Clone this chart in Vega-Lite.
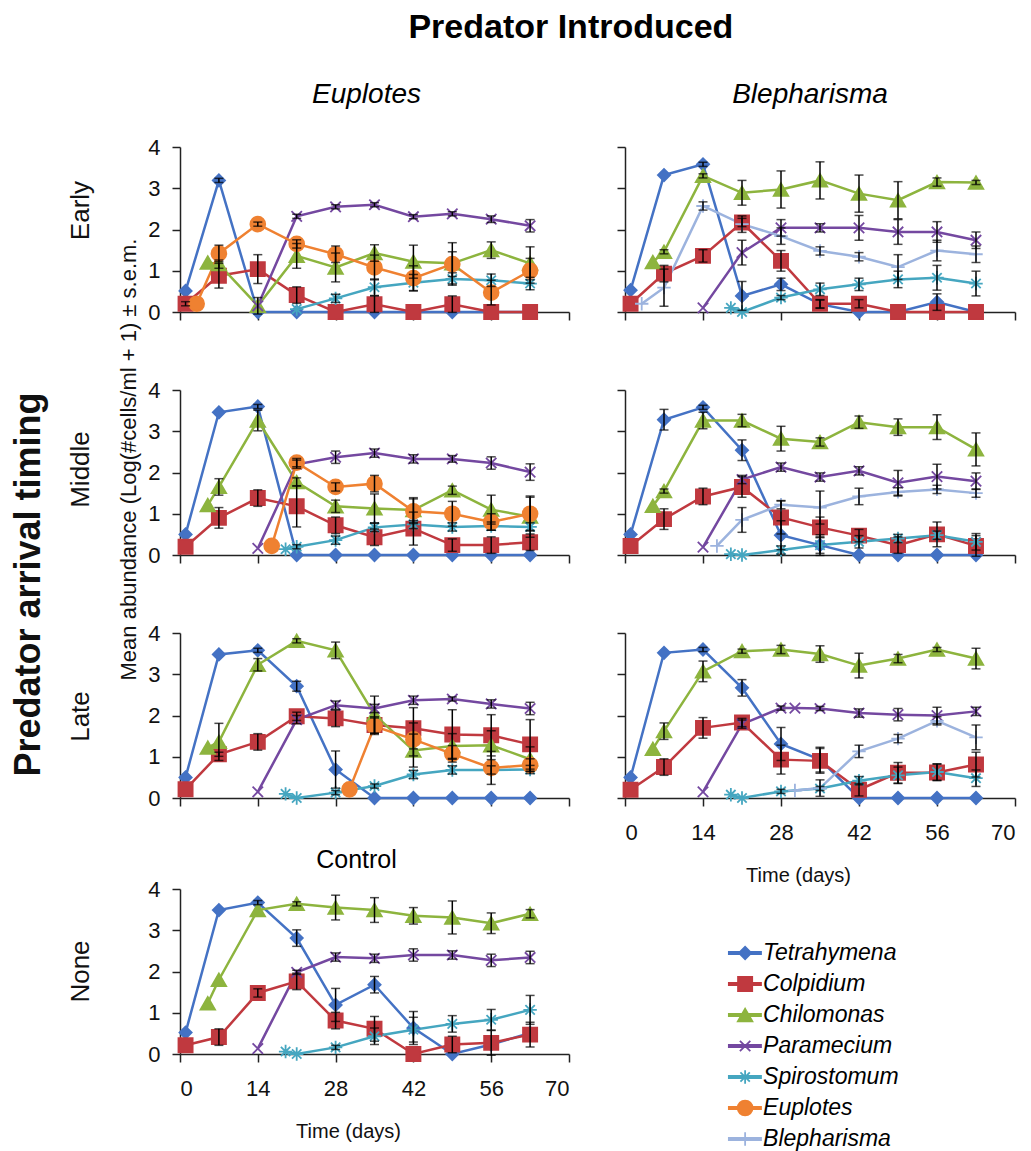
{
"$schema":"https://vega.github.io/schema/vega-lite/v6.json",
"padding":{"left":10,"top":11,"right":5,"bottom":3},
"title":{"text":"Predator Introduced","fontSize":34,"fontWeight":"bold","anchor":"middle","frame":"bounds","offset":36,"dx":58},
"datasets":{
"legend":[{"species":"Tetrahymena"},{"species":"Colpidium"},{"species":"Chilomonas"},{"species":"Paramecium"},{"species":"Spirostomum"},{"species":"Euplotes"},{"species":"Blepharisma"}],
"EE":[
{"species":"Tetrahymena","day":1,"mean":0.51,"se":0},{"species":"Tetrahymena","day":7,"mean":3.19,"se":0.05},{"species":"Tetrahymena","day":14,"mean":0,"se":0},{"species":"Tetrahymena","day":21,"mean":0,"se":0},{"species":"Tetrahymena","day":28,"mean":0,"se":0},{"species":"Tetrahymena","day":35,"mean":0,"se":0},{"species":"Tetrahymena","day":42,"mean":0,"se":0},{"species":"Tetrahymena","day":49,"mean":0,"se":0},{"species":"Tetrahymena","day":56,"mean":0,"se":0},{"species":"Tetrahymena","day":63,"mean":0,"se":0},
{"species":"Colpidium","day":1,"mean":0.2,"se":0.05},{"species":"Colpidium","day":7,"mean":0.88,"se":0.3},{"species":"Colpidium","day":14,"mean":1.04,"se":0.35},{"species":"Colpidium","day":21,"mean":0.41,"se":0.2},{"species":"Colpidium","day":28,"mean":0,"se":0},{"species":"Colpidium","day":35,"mean":0.19,"se":0.2},{"species":"Colpidium","day":42,"mean":0,"se":0},{"species":"Colpidium","day":49,"mean":0.19,"se":0.2},{"species":"Colpidium","day":56,"mean":0,"se":0},{"species":"Colpidium","day":63,"mean":0,"se":0},
{"species":"Chilomonas","day":5,"mean":1.2,"se":0},{"species":"Chilomonas","day":7,"mean":1.16,"se":0.1},{"species":"Chilomonas","day":14,"mean":0.15,"se":0.2},{"species":"Chilomonas","day":21,"mean":1.36,"se":0.3},{"species":"Chilomonas","day":28,"mean":1.08,"se":0.35},{"species":"Chilomonas","day":35,"mean":1.43,"se":0.2},{"species":"Chilomonas","day":42,"mean":1.22,"se":0.4},{"species":"Chilomonas","day":49,"mean":1.18,"se":0.5},{"species":"Chilomonas","day":56,"mean":1.5,"se":0.2},{"species":"Chilomonas","day":63,"mean":1.18,"se":0.4},
{"species":"Paramecium","day":14,"mean":0.15,"se":0},{"species":"Paramecium","day":21,"mean":2.32,"se":0.05},{"species":"Paramecium","day":28,"mean":2.55,"se":0.05},{"species":"Paramecium","day":35,"mean":2.6,"se":0.05},{"species":"Paramecium","day":42,"mean":2.31,"se":0.05},{"species":"Paramecium","day":49,"mean":2.38,"se":0.05},{"species":"Paramecium","day":56,"mean":2.25,"se":0.08},{"species":"Paramecium","day":63,"mean":2.09,"se":0.15},
{"species":"Spirostomum","day":21,"mean":0.07,"se":0},{"species":"Spirostomum","day":28,"mean":0.33,"se":0.1},{"species":"Spirostomum","day":35,"mean":0.6,"se":0.2},{"species":"Spirostomum","day":42,"mean":0.71,"se":0.2},{"species":"Spirostomum","day":49,"mean":0.8,"se":0.15},{"species":"Spirostomum","day":56,"mean":0.77,"se":0.15},{"species":"Spirostomum","day":63,"mean":0.69,"se":0.15},
{"species":"Euplotes","day":3,"mean":0.2,"se":0},{"species":"Euplotes","day":7,"mean":1.42,"se":0.2},{"species":"Euplotes","day":14,"mean":2.13,"se":0.05},{"species":"Euplotes","day":21,"mean":1.65,"se":0.1},{"species":"Euplotes","day":28,"mean":1.4,"se":0.2},{"species":"Euplotes","day":35,"mean":1.08,"se":0.3},{"species":"Euplotes","day":42,"mean":0.82,"se":0.3},{"species":"Euplotes","day":49,"mean":1.16,"se":0.3},{"species":"Euplotes","day":56,"mean":0.47,"se":0.3},{"species":"Euplotes","day":63,"mean":1.0,"se":0.3}
],
"EB":[
{"species":"Tetrahymena","day":1,"mean":0.53,"se":0},{"species":"Tetrahymena","day":7,"mean":3.32,"se":0},{"species":"Tetrahymena","day":14,"mean":3.58,"se":0.05},{"species":"Tetrahymena","day":21,"mean":0.39,"se":0.35},{"species":"Tetrahymena","day":28,"mean":0.67,"se":0.15},{"species":"Tetrahymena","day":35,"mean":0.19,"se":0.1},{"species":"Tetrahymena","day":42,"mean":0,"se":0},{"species":"Tetrahymena","day":49,"mean":0,"se":0},{"species":"Tetrahymena","day":56,"mean":0.24,"se":0.2},{"species":"Tetrahymena","day":63,"mean":0,"se":0},
{"species":"Colpidium","day":1,"mean":0.2,"se":0},{"species":"Colpidium","day":7,"mean":0.93,"se":0.2},{"species":"Colpidium","day":14,"mean":1.36,"se":0.15},{"species":"Colpidium","day":21,"mean":2.17,"se":0.1},{"species":"Colpidium","day":28,"mean":1.24,"se":0.25},{"species":"Colpidium","day":35,"mean":0.2,"se":0.1},{"species":"Colpidium","day":42,"mean":0.2,"se":0.1},{"species":"Colpidium","day":49,"mean":0,"se":0},{"species":"Colpidium","day":56,"mean":0,"se":0},{"species":"Colpidium","day":63,"mean":0,"se":0},
{"species":"Chilomonas","day":5,"mean":1.21,"se":0},{"species":"Chilomonas","day":7,"mean":1.46,"se":0.05},{"species":"Chilomonas","day":14,"mean":3.3,"se":0.05},{"species":"Chilomonas","day":21,"mean":2.89,"se":0.3},{"species":"Chilomonas","day":28,"mean":2.97,"se":0.45},{"species":"Chilomonas","day":35,"mean":3.19,"se":0.45},{"species":"Chilomonas","day":42,"mean":2.87,"se":0.45},{"species":"Chilomonas","day":49,"mean":2.71,"se":0.45},{"species":"Chilomonas","day":56,"mean":3.15,"se":0.1},{"species":"Chilomonas","day":63,"mean":3.14,"se":0.05},
{"species":"Paramecium","day":14,"mean":0.1,"se":0},{"species":"Paramecium","day":21,"mean":1.44,"se":0.3},{"species":"Paramecium","day":28,"mean":2.04,"se":0.2},{"species":"Paramecium","day":35,"mean":2.04,"se":0.1},{"species":"Paramecium","day":42,"mean":2.04,"se":0.3},{"species":"Paramecium","day":49,"mean":1.94,"se":0.3},{"species":"Paramecium","day":56,"mean":1.94,"se":0.25},{"species":"Paramecium","day":63,"mean":1.74,"se":0.2},
{"species":"Spirostomum","day":19,"mean":0.1,"se":0},{"species":"Spirostomum","day":21,"mean":0,"se":0},{"species":"Spirostomum","day":28,"mean":0.35,"se":0.05},{"species":"Spirostomum","day":35,"mean":0.55,"se":0.15},{"species":"Spirostomum","day":42,"mean":0.67,"se":0.15},{"species":"Spirostomum","day":49,"mean":0.79,"se":0.2},{"species":"Spirostomum","day":56,"mean":0.83,"se":0.3},{"species":"Spirostomum","day":63,"mean":0.69,"se":0.3},
{"species":"Blepharisma","day":3,"mean":0.2,"se":0},{"species":"Blepharisma","day":7,"mean":0.59,"se":0.45},{"species":"Blepharisma","day":14,"mean":2.57,"se":0.1},{"species":"Blepharisma","day":21,"mean":2.13,"se":0.2},{"species":"Blepharisma","day":28,"mean":1.84,"se":0.2},{"species":"Blepharisma","day":35,"mean":1.48,"se":0.1},{"species":"Blepharisma","day":42,"mean":1.34,"se":0.1},{"species":"Blepharisma","day":49,"mean":1.09,"se":0.3},{"species":"Blepharisma","day":56,"mean":1.49,"se":0.25},{"species":"Blepharisma","day":63,"mean":1.4,"se":0.2}
],
"ME":[
{"species":"Tetrahymena","day":1,"mean":0.5,"se":0},{"species":"Tetrahymena","day":7,"mean":3.46,"se":0},{"species":"Tetrahymena","day":14,"mean":3.6,"se":0.05},{"species":"Tetrahymena","day":21,"mean":0,"se":0},{"species":"Tetrahymena","day":28,"mean":0,"se":0},{"species":"Tetrahymena","day":35,"mean":0,"se":0},{"species":"Tetrahymena","day":42,"mean":0,"se":0},{"species":"Tetrahymena","day":49,"mean":0,"se":0},{"species":"Tetrahymena","day":56,"mean":0,"se":0},{"species":"Tetrahymena","day":63,"mean":0,"se":0},
{"species":"Colpidium","day":1,"mean":0.2,"se":0},{"species":"Colpidium","day":7,"mean":0.9,"se":0.25},{"species":"Colpidium","day":14,"mean":1.38,"se":0.2},{"species":"Colpidium","day":21,"mean":1.18,"se":0.5},{"species":"Colpidium","day":28,"mean":0.72,"se":0.2},{"species":"Colpidium","day":35,"mean":0.43,"se":0.2},{"species":"Colpidium","day":42,"mean":0.64,"se":0.4},{"species":"Colpidium","day":49,"mean":0.24,"se":0.15},{"species":"Colpidium","day":56,"mean":0.24,"se":0.2},{"species":"Colpidium","day":63,"mean":0.31,"se":0.2},
{"species":"Chilomonas","day":5,"mean":1.21,"se":0},{"species":"Chilomonas","day":7,"mean":1.65,"se":0.2},{"species":"Chilomonas","day":14,"mean":3.26,"se":0.25},{"species":"Chilomonas","day":21,"mean":1.77,"se":0.1},{"species":"Chilomonas","day":28,"mean":1.18,"se":0.15},{"species":"Chilomonas","day":35,"mean":1.13,"se":0.35},{"species":"Chilomonas","day":42,"mean":1.09,"se":0.3},{"species":"Chilomonas","day":49,"mean":1.57,"se":0.1},{"species":"Chilomonas","day":56,"mean":1.1,"se":0.35},{"species":"Chilomonas","day":63,"mean":0.93,"se":0.5},
{"species":"Paramecium","day":14,"mean":0.16,"se":0},{"species":"Paramecium","day":21,"mean":2.2,"se":0.1},{"species":"Paramecium","day":28,"mean":2.37,"se":0.15},{"species":"Paramecium","day":35,"mean":2.47,"se":0.1},{"species":"Paramecium","day":42,"mean":2.33,"se":0.1},{"species":"Paramecium","day":49,"mean":2.33,"se":0.08},{"species":"Paramecium","day":56,"mean":2.23,"se":0.15},{"species":"Paramecium","day":63,"mean":2.01,"se":0.2},
{"species":"Spirostomum","day":19,"mean":0.14,"se":0},{"species":"Spirostomum","day":21,"mean":0.2,"se":0.05},{"species":"Spirostomum","day":28,"mean":0.36,"se":0.1},{"species":"Spirostomum","day":35,"mean":0.67,"se":0.1},{"species":"Spirostomum","day":42,"mean":0.74,"se":0.1},{"species":"Spirostomum","day":49,"mean":0.68,"se":0.1},{"species":"Spirostomum","day":56,"mean":0.7,"se":0.1},{"species":"Spirostomum","day":63,"mean":0.68,"se":0.1},
{"species":"Euplotes","day":16.5,"mean":0.22,"se":0},{"species":"Euplotes","day":21,"mean":2.24,"se":0.1},{"species":"Euplotes","day":28,"mean":1.65,"se":0.1},{"species":"Euplotes","day":35,"mean":1.73,"se":0.2},{"species":"Euplotes","day":42,"mean":1.06,"se":0.3},{"species":"Euplotes","day":49,"mean":1.0,"se":0.3},{"species":"Euplotes","day":56,"mean":0.8,"se":0.2},{"species":"Euplotes","day":63,"mean":1.0,"se":0.4}
],
"MB":[
{"species":"Tetrahymena","day":1,"mean":0.5,"se":0},{"species":"Tetrahymena","day":7,"mean":3.28,"se":0.25},{"species":"Tetrahymena","day":14,"mean":3.58,"se":0.05},{"species":"Tetrahymena","day":21,"mean":2.54,"se":0.25},{"species":"Tetrahymena","day":28,"mean":0.48,"se":0.35},{"species":"Tetrahymena","day":35,"mean":0.24,"se":0.25},{"species":"Tetrahymena","day":42,"mean":0,"se":0},{"species":"Tetrahymena","day":49,"mean":0,"se":0},{"species":"Tetrahymena","day":56,"mean":0,"se":0},{"species":"Tetrahymena","day":63,"mean":0,"se":0},
{"species":"Colpidium","day":1,"mean":0.22,"se":0},{"species":"Colpidium","day":7,"mean":0.87,"se":0.25},{"species":"Colpidium","day":14,"mean":1.42,"se":0.2},{"species":"Colpidium","day":21,"mean":1.65,"se":0.25},{"species":"Colpidium","day":28,"mean":0.91,"se":0.4},{"species":"Colpidium","day":35,"mean":0.67,"se":0.25},{"species":"Colpidium","day":42,"mean":0.47,"se":0.15},{"species":"Colpidium","day":49,"mean":0.24,"se":0.2},{"species":"Colpidium","day":56,"mean":0.5,"se":0.3},{"species":"Colpidium","day":63,"mean":0.22,"se":0.25},
{"species":"Chilomonas","day":5,"mean":1.19,"se":0},{"species":"Chilomonas","day":7,"mean":1.55,"se":0.05},{"species":"Chilomonas","day":14,"mean":3.26,"se":0.2},{"species":"Chilomonas","day":21,"mean":3.26,"se":0.15},{"species":"Chilomonas","day":28,"mean":2.82,"se":0.3},{"species":"Chilomonas","day":35,"mean":2.74,"se":0.1},{"species":"Chilomonas","day":42,"mean":3.22,"se":0.15},{"species":"Chilomonas","day":49,"mean":3.1,"se":0.2},{"species":"Chilomonas","day":56,"mean":3.1,"se":0.3},{"species":"Chilomonas","day":63,"mean":2.56,"se":0.4},
{"species":"Paramecium","day":14,"mean":0.19,"se":0},{"species":"Paramecium","day":21,"mean":1.83,"se":0.1},{"species":"Paramecium","day":28,"mean":2.13,"se":0.1},{"species":"Paramecium","day":35,"mean":1.89,"se":0.1},{"species":"Paramecium","day":42,"mean":2.04,"se":0.1},{"species":"Paramecium","day":49,"mean":1.75,"se":0.3},{"species":"Paramecium","day":56,"mean":1.9,"se":0.3},{"species":"Paramecium","day":63,"mean":1.79,"se":0.2},
{"species":"Spirostomum","day":19,"mean":0.02,"se":0},{"species":"Spirostomum","day":21,"mean":0,"se":0},{"species":"Spirostomum","day":28,"mean":0.12,"se":0.1},{"species":"Spirostomum","day":35,"mean":0.24,"se":0.2},{"species":"Spirostomum","day":42,"mean":0.32,"se":0.15},{"species":"Spirostomum","day":49,"mean":0.4,"se":0.1},{"species":"Spirostomum","day":56,"mean":0.48,"se":0.1},{"species":"Spirostomum","day":63,"mean":0.32,"se":0.2},
{"species":"Blepharisma","day":16.5,"mean":0.22,"se":0},{"species":"Blepharisma","day":21,"mean":0.85,"se":0.3},{"species":"Blepharisma","day":28,"mean":1.22,"se":0.1},{"species":"Blepharisma","day":35,"mean":1.15,"se":0.4},{"species":"Blepharisma","day":42,"mean":1.42,"se":0.2},{"species":"Blepharisma","day":49,"mean":1.53,"se":0.1},{"species":"Blepharisma","day":56,"mean":1.59,"se":0.1},{"species":"Blepharisma","day":63,"mean":1.5,"se":0.1}
],
"LE":[
{"species":"Tetrahymena","day":1,"mean":0.5,"se":0},{"species":"Tetrahymena","day":7,"mean":3.48,"se":0},{"species":"Tetrahymena","day":14,"mean":3.58,"se":0.05},{"species":"Tetrahymena","day":21,"mean":2.71,"se":0.12},{"species":"Tetrahymena","day":28,"mean":0.69,"se":0.45},{"species":"Tetrahymena","day":35,"mean":0,"se":0},{"species":"Tetrahymena","day":42,"mean":0,"se":0},{"species":"Tetrahymena","day":49,"mean":0,"se":0},{"species":"Tetrahymena","day":56,"mean":0,"se":0},{"species":"Tetrahymena","day":63,"mean":0,"se":0},
{"species":"Colpidium","day":1,"mean":0.21,"se":0},{"species":"Colpidium","day":7,"mean":1.06,"se":0.05},{"species":"Colpidium","day":14,"mean":1.36,"se":0.2},{"species":"Colpidium","day":21,"mean":1.98,"se":0.1},{"species":"Colpidium","day":28,"mean":1.93,"se":0.2},{"species":"Colpidium","day":35,"mean":1.77,"se":0.2},{"species":"Colpidium","day":42,"mean":1.69,"se":0.5},{"species":"Colpidium","day":49,"mean":1.54,"se":0.6},{"species":"Colpidium","day":56,"mean":1.52,"se":0.5},{"species":"Colpidium","day":63,"mean":1.3,"se":0.6},
{"species":"Chilomonas","day":5,"mean":1.22,"se":0},{"species":"Chilomonas","day":7,"mean":1.36,"se":0.45},{"species":"Chilomonas","day":14,"mean":3.23,"se":0.15},{"species":"Chilomonas","day":21,"mean":3.81,"se":0.05},{"species":"Chilomonas","day":28,"mean":3.58,"se":0.2},{"species":"Chilomonas","day":35,"mean":2.02,"se":0.45},{"species":"Chilomonas","day":42,"mean":1.15,"se":0.4},{"species":"Chilomonas","day":49,"mean":1.26,"se":0.3},{"species":"Chilomonas","day":56,"mean":1.28,"se":0.35},{"species":"Chilomonas","day":63,"mean":0.94,"se":0.3},
{"species":"Paramecium","day":14,"mean":0.15,"se":0},{"species":"Paramecium","day":21,"mean":1.9,"se":0.1},{"species":"Paramecium","day":28,"mean":2.25,"se":0.1},{"species":"Paramecium","day":35,"mean":2.17,"se":0.1},{"species":"Paramecium","day":42,"mean":2.37,"se":0.1},{"species":"Paramecium","day":49,"mean":2.4,"se":0.05},{"species":"Paramecium","day":56,"mean":2.28,"se":0.1},{"species":"Paramecium","day":63,"mean":2.17,"se":0.15},
{"species":"Spirostomum","day":19,"mean":0.1,"se":0},{"species":"Spirostomum","day":21,"mean":0,"se":0},{"species":"Spirostomum","day":28,"mean":0.13,"se":0.05},{"species":"Spirostomum","day":35,"mean":0.29,"se":0.05},{"species":"Spirostomum","day":42,"mean":0.57,"se":0.1},{"species":"Spirostomum","day":49,"mean":0.68,"se":0.1},{"species":"Spirostomum","day":56,"mean":0.68,"se":0.1},{"species":"Spirostomum","day":63,"mean":0.69,"se":0.1},
{"species":"Euplotes","day":30.5,"mean":0.21,"se":0},{"species":"Euplotes","day":35,"mean":1.74,"se":0.2},{"species":"Euplotes","day":42,"mean":1.42,"se":0.4},{"species":"Euplotes","day":49,"mean":1.07,"se":0.2},{"species":"Euplotes","day":56,"mean":0.73,"se":0.4},{"species":"Euplotes","day":63,"mean":0.8,"se":0.15}
],
"LB":[
{"species":"Tetrahymena","day":1,"mean":0.5,"se":0},{"species":"Tetrahymena","day":7,"mean":3.52,"se":0},{"species":"Tetrahymena","day":14,"mean":3.6,"se":0.05},{"species":"Tetrahymena","day":21,"mean":2.67,"se":0.2},{"species":"Tetrahymena","day":28,"mean":1.31,"se":0.4},{"species":"Tetrahymena","day":35,"mean":0.93,"se":0.3},{"species":"Tetrahymena","day":42,"mean":0,"se":0},{"species":"Tetrahymena","day":49,"mean":0,"se":0},{"species":"Tetrahymena","day":56,"mean":0,"se":0},{"species":"Tetrahymena","day":63,"mean":0,"se":0},
{"species":"Colpidium","day":1,"mean":0.2,"se":0},{"species":"Colpidium","day":7,"mean":0.75,"se":0.2},{"species":"Colpidium","day":14,"mean":1.7,"se":0.25},{"species":"Colpidium","day":21,"mean":1.83,"se":0.1},{"species":"Colpidium","day":28,"mean":0.93,"se":0.35},{"species":"Colpidium","day":35,"mean":0.9,"se":0.3},{"species":"Colpidium","day":42,"mean":0.2,"se":0.15},{"species":"Colpidium","day":49,"mean":0.61,"se":0.25},{"species":"Colpidium","day":56,"mean":0.62,"se":0.2},{"species":"Colpidium","day":63,"mean":0.81,"se":0.3},
{"species":"Chilomonas","day":5,"mean":1.19,"se":0},{"species":"Chilomonas","day":7,"mean":1.62,"se":0.2},{"species":"Chilomonas","day":14,"mean":3.07,"se":0.25},{"species":"Chilomonas","day":21,"mean":3.56,"se":0.05},{"species":"Chilomonas","day":28,"mean":3.6,"se":0.1},{"species":"Chilomonas","day":35,"mean":3.49,"se":0.2},{"species":"Chilomonas","day":42,"mean":3.21,"se":0.3},{"species":"Chilomonas","day":49,"mean":3.38,"se":0.1},{"species":"Chilomonas","day":56,"mean":3.6,"se":0.05},{"species":"Chilomonas","day":63,"mean":3.38,"se":0.25},
{"species":"Paramecium","day":14,"mean":0.15,"se":0},{"species":"Paramecium","day":21,"mean":1.79,"se":0.1},{"species":"Paramecium","day":28,"mean":2.18,"se":0.05},{"species":"Paramecium","day":30.5,"mean":2.18,"se":0},{"species":"Paramecium","day":35,"mean":2.17,"se":0.05},{"species":"Paramecium","day":42,"mean":2.06,"se":0.1},{"species":"Paramecium","day":49,"mean":2.02,"se":0.15},{"species":"Paramecium","day":56,"mean":2.0,"se":0.2},{"species":"Paramecium","day":63,"mean":2.1,"se":0.1},
{"species":"Spirostomum","day":19,"mean":0.08,"se":0},{"species":"Spirostomum","day":21,"mean":0,"se":0},{"species":"Spirostomum","day":28,"mean":0.16,"se":0.05},{"species":"Spirostomum","day":35,"mean":0.23,"se":0.05},{"species":"Spirostomum","day":42,"mean":0.42,"se":0.1},{"species":"Spirostomum","day":49,"mean":0.55,"se":0.2},{"species":"Spirostomum","day":56,"mean":0.63,"se":0.2},{"species":"Spirostomum","day":63,"mean":0.48,"se":0.2},
{"species":"Blepharisma","day":30.5,"mean":0.18,"se":0},{"species":"Blepharisma","day":35,"mean":0.24,"se":0.2},{"species":"Blepharisma","day":42,"mean":1.13,"se":0.15},{"species":"Blepharisma","day":49,"mean":1.44,"se":0.1},{"species":"Blepharisma","day":56,"mean":1.87,"se":0.1},{"species":"Blepharisma","day":63,"mean":1.47,"se":0.3}
],
"C":[
{"species":"Tetrahymena","day":1,"mean":0.52,"se":0},{"species":"Tetrahymena","day":7,"mean":3.49,"se":0},{"species":"Tetrahymena","day":14,"mean":3.67,"se":0.05},{"species":"Tetrahymena","day":21,"mean":2.81,"se":0.2},{"species":"Tetrahymena","day":28,"mean":1.19,"se":0.4},{"species":"Tetrahymena","day":35,"mean":1.68,"se":0.2},{"species":"Tetrahymena","day":42,"mean":0.63,"se":0.4},{"species":"Tetrahymena","day":49,"mean":0,"se":0},{"species":"Tetrahymena","day":56,"mean":0.23,"se":0},{"species":"Tetrahymena","day":63,"mean":0.51,"se":0},
{"species":"Colpidium","day":1,"mean":0.21,"se":0},{"species":"Colpidium","day":7,"mean":0.41,"se":0.2},{"species":"Colpidium","day":14,"mean":1.48,"se":0.1},{"species":"Colpidium","day":21,"mean":1.76,"se":0.2},{"species":"Colpidium","day":28,"mean":0.81,"se":0.2},{"species":"Colpidium","day":35,"mean":0.61,"se":0.3},{"species":"Colpidium","day":42,"mean":0,"se":0},{"species":"Colpidium","day":49,"mean":0.23,"se":0.2},{"species":"Colpidium","day":56,"mean":0.27,"se":0.3},{"species":"Colpidium","day":63,"mean":0.47,"se":0.3},
{"species":"Chilomonas","day":5,"mean":1.23,"se":0},{"species":"Chilomonas","day":7,"mean":1.8,"se":0},{"species":"Chilomonas","day":14,"mean":3.49,"se":0},{"species":"Chilomonas","day":21,"mean":3.64,"se":0.05},{"species":"Chilomonas","day":28,"mean":3.55,"se":0.3},{"species":"Chilomonas","day":35,"mean":3.49,"se":0.3},{"species":"Chilomonas","day":42,"mean":3.35,"se":0.2},{"species":"Chilomonas","day":49,"mean":3.31,"se":0.4},{"species":"Chilomonas","day":56,"mean":3.17,"se":0.25},{"species":"Chilomonas","day":63,"mean":3.4,"se":0.1},
{"species":"Paramecium","day":14,"mean":0.13,"se":0},{"species":"Paramecium","day":21,"mean":1.98,"se":0.05},{"species":"Paramecium","day":28,"mean":2.35,"se":0.1},{"species":"Paramecium","day":35,"mean":2.32,"se":0.1},{"species":"Paramecium","day":42,"mean":2.4,"se":0.15},{"species":"Paramecium","day":49,"mean":2.4,"se":0.1},{"species":"Paramecium","day":56,"mean":2.27,"se":0.15},{"species":"Paramecium","day":63,"mean":2.34,"se":0.15},
{"species":"Spirostomum","day":19,"mean":0.06,"se":0},{"species":"Spirostomum","day":21,"mean":0,"se":0},{"species":"Spirostomum","day":28,"mean":0.16,"se":0.05},{"species":"Spirostomum","day":35,"mean":0.43,"se":0.2},{"species":"Spirostomum","day":42,"mean":0.59,"se":0.3},{"species":"Spirostomum","day":49,"mean":0.73,"se":0.2},{"species":"Spirostomum","day":56,"mean":0.83,"se":0.25},{"species":"Spirostomum","day":63,"mean":1.07,"se":0.35}
]
},
"columns":2,"bounds":"flush","spacing":{"row":78,"column":56},
"concat":[
{"width":389,"height":165,"title":{"text":"Euplotes","fontSize":28,"fontStyle":"italic","fontWeight":"normal","offset":27,"frame":"group","dx":-8},
"layer":[
{"data":{"name":"EE"},
"encoding":{"x":{"field":"day","type":"quantitative","scale":{"domain":[0,70],"nice":false},"axis":{"values":[0,14,28,42,56,70],"labels":false,"title":null}},
"y":{"field":"mean","type":"quantitative","scale":{"domain":[0,4],"nice":false},"axis":{"values":[0,1,2,3,4],"title":"Early","titleFontSize":26,"titleX":-100,"titleY":63,"titleAlign":"center","titleBaseline":"middle","titleAngle":270}}},
"layer":[
{"mark":{"type":"line","strokeWidth":2.5},"encoding":{"color":{"field":"species","type":"nominal","scale":{"domain":["Tetrahymena","Colpidium","Chilomonas","Paramecium","Spirostomum","Euplotes","Blepharisma"],"range":["#4472c4","#c0393f","#8db43e","#7448a0","#45a6c0","#ef8131","#9cb3de"]},"legend":null}}},
{"mark":{"type":"point","filled":true,"opacity":1,"strokeWidth":1.8},"encoding":{
"color":{"field":"species","type":"nominal","scale":{"domain":["Tetrahymena","Colpidium","Chilomonas","Paramecium","Spirostomum","Euplotes","Blepharisma"],"range":["#4472c4","#c0393f","#8db43e","#7448a0","#45a6c0","#ef8131","#9cb3de"]},"legend":null},
"stroke":{"field":"species","type":"nominal","scale":{"domain":["Tetrahymena","Colpidium","Chilomonas","Paramecium","Spirostomum","Euplotes","Blepharisma"],"range":["#4472c4","#c0393f","#8db43e","#7448a0","#45a6c0","#ef8131","#9cb3de"]},"legend":null},
"shape":{"field":"species","type":"nominal","scale":{"domain":["Tetrahymena","Colpidium","Chilomonas","Paramecium","Spirostomum","Euplotes","Blepharisma"],"range":["diamond","square","triangle-up","M-0.8,-0.8L0.8,0.8M-0.8,0.8L0.8,-0.8","M-1,0L1,0M0,-1L0,1M-0.7,-0.7L0.7,0.7M-0.7,0.7L0.7,-0.7","circle","M-1,0L1,0M0,-1L0,1"]},"legend":null},
"size":{"field":"species","type":"nominal","scale":{"type":"ordinal","domain":["Tetrahymena","Colpidium","Chilomonas","Paramecium","Spirostomum","Euplotes","Blepharisma"],"range":[150,200,210,170,180,220,180]},"legend":null}}},
{"transform":[{"filter":"datum.se > 0"}],"mark":{"type":"errorbar","ticks":{"size":9},"thickness":1.5,"color":"#000"},"encoding":{"yError":{"field":"se"}}}
]},
{"data":{"name":"EE"},"mark":{"type":"point","opacity":0},"encoding":{"y":{"field":"mean","type":"quantitative","scale":{"domain":[0,4],"nice":false},"axis":{"orient":"left","domain":false,"ticks":false,"labels":false,"title":"Mean abundance (Log(#cells/ml + 1) ± s.e.m.","titleFontSize":22,"titleX":-52,"titleY":312,"titleAlign":"center","titleBaseline":"middle","titleAngle":270}}}}
],
"resolve":{"scale":{"y":"independent"},"axis":{"y":"independent"}}},
{"width":390,"height":165,"title":{"text":"Blepharisma","fontSize":28,"fontStyle":"italic","fontWeight":"normal","offset":37,"frame":"group","dx":-10},
"data":{"name":"EB"},
"encoding":{"x":{"field":"day","type":"quantitative","scale":{"domain":[0,70],"nice":false},"axis":{"values":[0,14,28,42,56,70],"labels":false,"title":null}},
"y":{"field":"mean","type":"quantitative","scale":{"domain":[0,4],"nice":false},"axis":{"values":[0,1,2,3,4],"labels":false,"title":null}}},
"layer":[
{"mark":{"type":"line","strokeWidth":2.5},"encoding":{"color":{"field":"species","type":"nominal","scale":{"domain":["Tetrahymena","Colpidium","Chilomonas","Paramecium","Spirostomum","Euplotes","Blepharisma"],"range":["#4472c4","#c0393f","#8db43e","#7448a0","#45a6c0","#ef8131","#9cb3de"]},"legend":null}}},
{"mark":{"type":"point","filled":true,"opacity":1,"strokeWidth":1.8},"encoding":{
"color":{"field":"species","type":"nominal","scale":{"domain":["Tetrahymena","Colpidium","Chilomonas","Paramecium","Spirostomum","Euplotes","Blepharisma"],"range":["#4472c4","#c0393f","#8db43e","#7448a0","#45a6c0","#ef8131","#9cb3de"]},"legend":null},
"stroke":{"field":"species","type":"nominal","scale":{"domain":["Tetrahymena","Colpidium","Chilomonas","Paramecium","Spirostomum","Euplotes","Blepharisma"],"range":["#4472c4","#c0393f","#8db43e","#7448a0","#45a6c0","#ef8131","#9cb3de"]},"legend":null},
"shape":{"field":"species","type":"nominal","scale":{"domain":["Tetrahymena","Colpidium","Chilomonas","Paramecium","Spirostomum","Euplotes","Blepharisma"],"range":["diamond","square","triangle-up","M-0.8,-0.8L0.8,0.8M-0.8,0.8L0.8,-0.8","M-1,0L1,0M0,-1L0,1M-0.7,-0.7L0.7,0.7M-0.7,0.7L0.7,-0.7","circle","M-1,0L1,0M0,-1L0,1"]},"legend":null},
"size":{"field":"species","type":"nominal","scale":{"type":"ordinal","domain":["Tetrahymena","Colpidium","Chilomonas","Paramecium","Spirostomum","Euplotes","Blepharisma"],"range":[150,200,210,170,180,220,180]},"legend":null}}},
{"transform":[{"filter":"datum.se > 0"}],"mark":{"type":"errorbar","ticks":{"size":9},"thickness":1.5,"color":"#000"},"encoding":{"yError":{"field":"se"}}}
]},
{"width":389,"height":165,
"layer":[
{"data":{"name":"ME"},
"encoding":{"x":{"field":"day","type":"quantitative","scale":{"domain":[0,70],"nice":false},"axis":{"values":[0,14,28,42,56,70],"labels":false,"title":null}},
"y":{"field":"mean","type":"quantitative","scale":{"domain":[0,4],"nice":false},"axis":{"values":[0,1,2,3,4],"title":"Middle","titleFontSize":26,"titleX":-100,"titleY":79,"titleAlign":"center","titleBaseline":"middle","titleAngle":270}}},
"layer":[
{"mark":{"type":"line","strokeWidth":2.5},"encoding":{"color":{"field":"species","type":"nominal","scale":{"domain":["Tetrahymena","Colpidium","Chilomonas","Paramecium","Spirostomum","Euplotes","Blepharisma"],"range":["#4472c4","#c0393f","#8db43e","#7448a0","#45a6c0","#ef8131","#9cb3de"]},"legend":null}}},
{"mark":{"type":"point","filled":true,"opacity":1,"strokeWidth":1.8},"encoding":{
"color":{"field":"species","type":"nominal","scale":{"domain":["Tetrahymena","Colpidium","Chilomonas","Paramecium","Spirostomum","Euplotes","Blepharisma"],"range":["#4472c4","#c0393f","#8db43e","#7448a0","#45a6c0","#ef8131","#9cb3de"]},"legend":null},
"stroke":{"field":"species","type":"nominal","scale":{"domain":["Tetrahymena","Colpidium","Chilomonas","Paramecium","Spirostomum","Euplotes","Blepharisma"],"range":["#4472c4","#c0393f","#8db43e","#7448a0","#45a6c0","#ef8131","#9cb3de"]},"legend":null},
"shape":{"field":"species","type":"nominal","scale":{"domain":["Tetrahymena","Colpidium","Chilomonas","Paramecium","Spirostomum","Euplotes","Blepharisma"],"range":["diamond","square","triangle-up","M-0.8,-0.8L0.8,0.8M-0.8,0.8L0.8,-0.8","M-1,0L1,0M0,-1L0,1M-0.7,-0.7L0.7,0.7M-0.7,0.7L0.7,-0.7","circle","M-1,0L1,0M0,-1L0,1"]},"legend":null},
"size":{"field":"species","type":"nominal","scale":{"type":"ordinal","domain":["Tetrahymena","Colpidium","Chilomonas","Paramecium","Spirostomum","Euplotes","Blepharisma"],"range":[150,200,210,170,180,220,180]},"legend":null}}},
{"transform":[{"filter":"datum.se > 0"}],"mark":{"type":"errorbar","ticks":{"size":9},"thickness":1.5,"color":"#000"},"encoding":{"yError":{"field":"se"}}}
]},
{"data":{"name":"ME"},"mark":{"type":"point","opacity":0},"encoding":{"y":{"field":"mean","type":"quantitative","scale":{"domain":[0,4],"nice":false},"axis":{"orient":"left","domain":false,"ticks":false,"labels":false,"title":"Predator arrival timing","titleFontSize":36,"titleFontWeight":"bold","titleX":-152,"titleY":194,"titleAlign":"center","titleBaseline":"middle","titleAngle":270}}}}
],
"resolve":{"scale":{"y":"independent"},"axis":{"y":"independent"}}},
{"width":390,"height":165,
"data":{"name":"MB"},
"encoding":{"x":{"field":"day","type":"quantitative","scale":{"domain":[0,70],"nice":false},"axis":{"values":[0,14,28,42,56,70],"labels":false,"title":null}},
"y":{"field":"mean","type":"quantitative","scale":{"domain":[0,4],"nice":false},"axis":{"values":[0,1,2,3,4],"labels":false,"title":null}}},
"layer":[
{"mark":{"type":"line","strokeWidth":2.5},"encoding":{"color":{"field":"species","type":"nominal","scale":{"domain":["Tetrahymena","Colpidium","Chilomonas","Paramecium","Spirostomum","Euplotes","Blepharisma"],"range":["#4472c4","#c0393f","#8db43e","#7448a0","#45a6c0","#ef8131","#9cb3de"]},"legend":null}}},
{"mark":{"type":"point","filled":true,"opacity":1,"strokeWidth":1.8},"encoding":{
"color":{"field":"species","type":"nominal","scale":{"domain":["Tetrahymena","Colpidium","Chilomonas","Paramecium","Spirostomum","Euplotes","Blepharisma"],"range":["#4472c4","#c0393f","#8db43e","#7448a0","#45a6c0","#ef8131","#9cb3de"]},"legend":null},
"stroke":{"field":"species","type":"nominal","scale":{"domain":["Tetrahymena","Colpidium","Chilomonas","Paramecium","Spirostomum","Euplotes","Blepharisma"],"range":["#4472c4","#c0393f","#8db43e","#7448a0","#45a6c0","#ef8131","#9cb3de"]},"legend":null},
"shape":{"field":"species","type":"nominal","scale":{"domain":["Tetrahymena","Colpidium","Chilomonas","Paramecium","Spirostomum","Euplotes","Blepharisma"],"range":["diamond","square","triangle-up","M-0.8,-0.8L0.8,0.8M-0.8,0.8L0.8,-0.8","M-1,0L1,0M0,-1L0,1M-0.7,-0.7L0.7,0.7M-0.7,0.7L0.7,-0.7","circle","M-1,0L1,0M0,-1L0,1"]},"legend":null},
"size":{"field":"species","type":"nominal","scale":{"type":"ordinal","domain":["Tetrahymena","Colpidium","Chilomonas","Paramecium","Spirostomum","Euplotes","Blepharisma"],"range":[150,200,210,170,180,220,180]},"legend":null}}},
{"transform":[{"filter":"datum.se > 0"}],"mark":{"type":"errorbar","ticks":{"size":9},"thickness":1.5,"color":"#000"},"encoding":{"yError":{"field":"se"}}}
]},
{"width":389,"height":178,
"data":{"name":"LE"},
"encoding":{"x":{"field":"day","type":"quantitative","scale":{"domain":[0,70],"nice":false},"axis":{"values":[0,14,28,42,56,70],"labels":false,"title":null,"offset":-13}},
"y":{"field":"mean","type":"quantitative","scale":{"domain":[0,4],"nice":false,"range":[165,0]},"axis":{"values":[0,1,2,3,4],"title":"Late","titleFontSize":26,"titleX":-100,"titleY":83,"titleAlign":"center","titleBaseline":"middle","titleAngle":270}}},
"layer":[
{"mark":{"type":"line","strokeWidth":2.5},"encoding":{"color":{"field":"species","type":"nominal","scale":{"domain":["Tetrahymena","Colpidium","Chilomonas","Paramecium","Spirostomum","Euplotes","Blepharisma"],"range":["#4472c4","#c0393f","#8db43e","#7448a0","#45a6c0","#ef8131","#9cb3de"]},"legend":null}}},
{"mark":{"type":"point","filled":true,"opacity":1,"strokeWidth":1.8},"encoding":{
"color":{"field":"species","type":"nominal","scale":{"domain":["Tetrahymena","Colpidium","Chilomonas","Paramecium","Spirostomum","Euplotes","Blepharisma"],"range":["#4472c4","#c0393f","#8db43e","#7448a0","#45a6c0","#ef8131","#9cb3de"]},"legend":null},
"stroke":{"field":"species","type":"nominal","scale":{"domain":["Tetrahymena","Colpidium","Chilomonas","Paramecium","Spirostomum","Euplotes","Blepharisma"],"range":["#4472c4","#c0393f","#8db43e","#7448a0","#45a6c0","#ef8131","#9cb3de"]},"legend":null},
"shape":{"field":"species","type":"nominal","scale":{"domain":["Tetrahymena","Colpidium","Chilomonas","Paramecium","Spirostomum","Euplotes","Blepharisma"],"range":["diamond","square","triangle-up","M-0.8,-0.8L0.8,0.8M-0.8,0.8L0.8,-0.8","M-1,0L1,0M0,-1L0,1M-0.7,-0.7L0.7,0.7M-0.7,0.7L0.7,-0.7","circle","M-1,0L1,0M0,-1L0,1"]},"legend":null},
"size":{"field":"species","type":"nominal","scale":{"type":"ordinal","domain":["Tetrahymena","Colpidium","Chilomonas","Paramecium","Spirostomum","Euplotes","Blepharisma"],"range":[150,200,210,170,180,220,180]},"legend":null}}},
{"transform":[{"filter":"datum.se > 0"}],"mark":{"type":"errorbar","ticks":{"size":9},"thickness":1.5,"color":"#000"},"encoding":{"yError":{"field":"se"}}}
]},
{"width":390,"height":178,
"data":{"name":"LB"},
"encoding":{"x":{"field":"day","type":"quantitative","scale":{"domain":[0,70],"nice":false},"axis":{"values":[0,14,28,42,56,70],"title":"Time (days)","titleFontSize":20,"labelPadding":16,"titlePadding":22,"titleX":173,"offset":-13}},
"y":{"field":"mean","type":"quantitative","scale":{"domain":[0,4],"nice":false,"range":[165,0]},"axis":{"values":[0,1,2,3,4],"labels":false,"title":null}}},
"layer":[
{"mark":{"type":"line","strokeWidth":2.5},"encoding":{"color":{"field":"species","type":"nominal","scale":{"domain":["Tetrahymena","Colpidium","Chilomonas","Paramecium","Spirostomum","Euplotes","Blepharisma"],"range":["#4472c4","#c0393f","#8db43e","#7448a0","#45a6c0","#ef8131","#9cb3de"]},"legend":null}}},
{"mark":{"type":"point","filled":true,"opacity":1,"strokeWidth":1.8},"encoding":{
"color":{"field":"species","type":"nominal","scale":{"domain":["Tetrahymena","Colpidium","Chilomonas","Paramecium","Spirostomum","Euplotes","Blepharisma"],"range":["#4472c4","#c0393f","#8db43e","#7448a0","#45a6c0","#ef8131","#9cb3de"]},"legend":null},
"stroke":{"field":"species","type":"nominal","scale":{"domain":["Tetrahymena","Colpidium","Chilomonas","Paramecium","Spirostomum","Euplotes","Blepharisma"],"range":["#4472c4","#c0393f","#8db43e","#7448a0","#45a6c0","#ef8131","#9cb3de"]},"legend":null},
"shape":{"field":"species","type":"nominal","scale":{"domain":["Tetrahymena","Colpidium","Chilomonas","Paramecium","Spirostomum","Euplotes","Blepharisma"],"range":["diamond","square","triangle-up","M-0.8,-0.8L0.8,0.8M-0.8,0.8L0.8,-0.8","M-1,0L1,0M0,-1L0,1M-0.7,-0.7L0.7,0.7M-0.7,0.7L0.7,-0.7","circle","M-1,0L1,0M0,-1L0,1"]},"legend":null},
"size":{"field":"species","type":"nominal","scale":{"type":"ordinal","domain":["Tetrahymena","Colpidium","Chilomonas","Paramecium","Spirostomum","Euplotes","Blepharisma"],"range":[150,200,210,170,180,220,180]},"legend":null}}},
{"transform":[{"filter":"datum.se > 0"}],"mark":{"type":"errorbar","ticks":{"size":9},"thickness":1.5,"color":"#000"},"encoding":{"yError":{"field":"se"}}}
]},
{"width":389,"height":165,"title":{"text":"Control","fontSize":25,"fontWeight":"normal","offset":5,"frame":"group","dx":-18},
"data":{"name":"C"},
"encoding":{"x":{"field":"day","type":"quantitative","scale":{"domain":[0,70],"nice":false},"axis":{"values":[0,14,28,42,56,70],"title":"Time (days)","titleFontSize":20,"labelPadding":16,"titlePadding":22,"titleX":168}},
"y":{"field":"mean","type":"quantitative","scale":{"domain":[0,4],"nice":false},"axis":{"values":[0,1,2,3,4],"title":"None","titleFontSize":26,"titleX":-100,"titleY":82,"titleAlign":"center","titleBaseline":"middle","titleAngle":270}}},
"layer":[
{"mark":{"type":"line","strokeWidth":2.5},"encoding":{"color":{"field":"species","type":"nominal","scale":{"domain":["Tetrahymena","Colpidium","Chilomonas","Paramecium","Spirostomum","Euplotes","Blepharisma"],"range":["#4472c4","#c0393f","#8db43e","#7448a0","#45a6c0","#ef8131","#9cb3de"]},"legend":null}}},
{"mark":{"type":"point","filled":true,"opacity":1,"strokeWidth":1.8},"encoding":{
"color":{"field":"species","type":"nominal","scale":{"domain":["Tetrahymena","Colpidium","Chilomonas","Paramecium","Spirostomum","Euplotes","Blepharisma"],"range":["#4472c4","#c0393f","#8db43e","#7448a0","#45a6c0","#ef8131","#9cb3de"]},"legend":null},
"stroke":{"field":"species","type":"nominal","scale":{"domain":["Tetrahymena","Colpidium","Chilomonas","Paramecium","Spirostomum","Euplotes","Blepharisma"],"range":["#4472c4","#c0393f","#8db43e","#7448a0","#45a6c0","#ef8131","#9cb3de"]},"legend":null},
"shape":{"field":"species","type":"nominal","scale":{"domain":["Tetrahymena","Colpidium","Chilomonas","Paramecium","Spirostomum","Euplotes","Blepharisma"],"range":["diamond","square","triangle-up","M-0.8,-0.8L0.8,0.8M-0.8,0.8L0.8,-0.8","M-1,0L1,0M0,-1L0,1M-0.7,-0.7L0.7,0.7M-0.7,0.7L0.7,-0.7","circle","M-1,0L1,0M0,-1L0,1"]},"legend":null},
"size":{"field":"species","type":"nominal","scale":{"type":"ordinal","domain":["Tetrahymena","Colpidium","Chilomonas","Paramecium","Spirostomum","Euplotes","Blepharisma"],"range":[150,200,210,170,180,220,180]},"legend":null}}},
{"transform":[{"filter":"datum.se > 0"}],"mark":{"type":"errorbar","ticks":{"size":9},"thickness":1.5,"color":"#000"},"encoding":{"yError":{"field":"se"}}}
]},
{"width":390,"height":252,
"data":{"name":"legend"},
"encoding":{"y":{"field":"species","type":"nominal","scale":{"type":"point","padding":0,"domain":["Tetrahymena","Colpidium","Chilomonas","Paramecium","Spirostomum","Euplotes","Blepharisma"],"range":[64,250]},"axis":null}},
"layer":[
{"mark":{"type":"rule","strokeWidth":4},"encoding":{"x":{"datum":2.64,"type":"quantitative","scale":{"domain":[0,10]},"axis":null},"x2":{"datum":3.51},
"color":{"field":"species","type":"nominal","scale":{"domain":["Tetrahymena","Colpidium","Chilomonas","Paramecium","Spirostomum","Euplotes","Blepharisma"],"range":["#4472c4","#c0393f","#8db43e","#7448a0","#45a6c0","#ef8131","#9cb3de"]},"legend":null}}},
{"mark":{"type":"point","filled":true,"opacity":1,"strokeWidth":1.8},"encoding":{"x":{"datum":3.08,"type":"quantitative","scale":{"domain":[0,10]},"axis":null},
"color":{"field":"species","type":"nominal","scale":{"domain":["Tetrahymena","Colpidium","Chilomonas","Paramecium","Spirostomum","Euplotes","Blepharisma"],"range":["#4472c4","#c0393f","#8db43e","#7448a0","#45a6c0","#ef8131","#9cb3de"]},"legend":null},
"stroke":{"field":"species","type":"nominal","scale":{"domain":["Tetrahymena","Colpidium","Chilomonas","Paramecium","Spirostomum","Euplotes","Blepharisma"],"range":["#4472c4","#c0393f","#8db43e","#7448a0","#45a6c0","#ef8131","#9cb3de"]},"legend":null},
"shape":{"field":"species","type":"nominal","scale":{"domain":["Tetrahymena","Colpidium","Chilomonas","Paramecium","Spirostomum","Euplotes","Blepharisma"],"range":["diamond","square","triangle-up","M-0.8,-0.8L0.8,0.8M-0.8,0.8L0.8,-0.8","M-1,0L1,0M0,-1L0,1M-0.7,-0.7L0.7,0.7M-0.7,0.7L0.7,-0.7","circle","M-1,0L1,0M0,-1L0,1"]},"legend":null},
"size":{"field":"species","type":"nominal","scale":{"type":"ordinal","domain":["Tetrahymena","Colpidium","Chilomonas","Paramecium","Spirostomum","Euplotes","Blepharisma"],"range":[150,200,210,170,180,220,180]},"legend":null}}},
{"mark":{"type":"text","align":"left","baseline":"middle","fontSize":23,"fontStyle":"italic","color":"#000"},"encoding":{"x":{"datum":3.54,"type":"quantitative","scale":{"domain":[0,10]},"axis":null},"text":{"field":"species"}}}
]}
],
"config":{
"view":{"stroke":null},
"font":"Liberation Sans",
"title":{"font":"Liberation Sans","color":"#000"},
"axis":{"grid":false,"domainColor":"#222","tickColor":"#222","domainWidth":1.5,"tickWidth":1.5,"tickSize":8,"labelPadding":12,"labelFont":"Liberation Sans","labelFontSize":22,"labelColor":"#111","titleFont":"Liberation Sans","titleFontWeight":"normal","titleColor":"#111"}
}
}
